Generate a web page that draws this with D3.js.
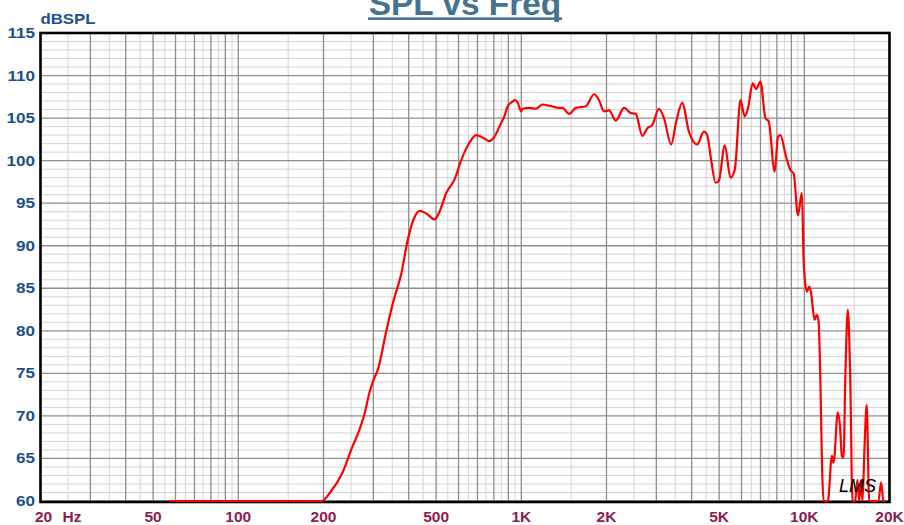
<!DOCTYPE html>
<html>
<head>
<meta charset="utf-8">
<script src="https://cdn.jsdelivr.net/npm/d3@7"></script>
<style>
  html, body { margin: 0; padding: 0; background: #fff; }
  svg { display: block; }
  text { font-family: "Liberation Sans", Arial, sans-serif; }
</style>
</head>
<body>
<svg id="chart" width="904" height="525"></svg>
<script>
// ---- data ----
const freqHz = [57, 197, 211, 234, 251, 268, 280, 291, 301, 311, 334, 352, 377, 397, 420, 437, 461, 494, 514, 543, 581,
  614, 656, 692, 741, 771, 803, 848, 871, 895, 920, 950, 971, 998, 1011, 1067, 1127, 1189, 1273, 1361, 1398, 1476, 1559,
  1691, 1808, 1883, 1961, 2042, 2157, 2307, 2436, 2538, 2677, 2789, 2904, 3066, 3192, 3386, 3527, 3702, 3911, 4184, 4416,
  4537, 4686, 4857, 4988, 5236, 5484, 5679, 5949, 6159, 6328, 6575, 6753, 6998, 7288, 7487, 7858, 8072, 8232, 8614, 8927,
  9170, 9494, 9808, 9944, 10024, 10212, 10414, 10550, 10872, 11076, 11230, 11696, 12113, 12512, 12686, 13136, 13396,
  13570, 13758, 13950, 14248, 14526, 14800, 15128, 15412, 15626, 15882, 16052, 16312, 16618, 16948, 18276, 18678, 19034, 19500];
const splDb = [60, 60, 61.0, 63.4, 66.1, 68.4, 70.4, 72.8, 74.3, 75.4, 80.1, 83.3, 86.8, 90.7, 93.4, 94.1, 93.8, 93.1, 94.0, 96.2, 97.8,
  100.1, 102.1, 103.0, 102.6, 102.3, 102.8, 104.4, 105.2, 106.4, 106.8, 107.1, 106.8, 105.8, 106.1, 106.2, 106.1, 106.6, 106.4, 106.2, 106.2, 105.5, 106.2,
  106.4, 107.8, 107.1, 105.8, 105.9, 104.7, 106.2, 105.6, 105.5, 102.9, 103.8, 104.2, 106.1, 105.0, 101.9, 104.6, 106.8, 103.4, 101.9, 103.4,
  103.0, 100.1, 97.4, 97.6, 101.8, 98.0, 98.9, 107.1, 105.2, 106.2, 109.1, 108.4, 109.3, 105.0, 104.6, 98.7, 102.8, 103.0, 100.5, 98.9,
  98.5, 93.6, 96.2, 88.4, 86.4, 84.6, 85.2, 84.6, 81.3, 81.9, 81.1, 60, 60, 65.3, 64.5, 70.4, 68.4,
  65.3, 65.1, 73.9, 82.5, 74.7, 60, 60, 62.5, 60, 62.5, 60, 66.1, 71.3, 60, 60, 62.2, 60, 60];

const yTicks = [60, 65, 70, 75, 80, 85, 90, 95, 100, 105, 110, 115];
const xTickValues = [20, 50, 100, 200, 500, 1000, 2000, 5000, 10000, 20000];
const xTickLabels = ["20", "50", "100", "200", "500", "1K", "2K", "5K", "10K", "20K"];
const titleText = "SPL vs Freq";
const yAxisTitle = "dBSPL";
const xUnit = "Hz";
const logoText = "LMS";

// ---- layout ----
const L = 40.5, R = 889.5, T = 33, B = 501;
const svg = d3.select("#chart");
const x = d3.scaleLog().domain([20, 20000]).range([L, R]);
const y = d3.scaleLinear().domain([60, 115]).range([B, T]);

// grid values
const majorV = [], minorV = [];
[10, 100, 1000, 10000].forEach(dec => {
  for (let m = 1; m <= 9; m++) {
    const v = m * dec;
    if (v >= 20 && v <= 20000) majorV.push(v);
    const h = (m + 0.5) * dec;
    if (h > 20 && h < 20000) minorV.push(h);
  }
});
const minorH = d3.range(60, 116, 1).filter(d => d % 5 !== 0);

const g = svg.append("g");
g.selectAll("line.minv").data(minorV).join("line")
  .attr("x1", d => x(d)).attr("x2", d => x(d)).attr("y1", T).attr("y2", B)
  .attr("stroke", "#d4d4d4").attr("stroke-width", 1);
g.selectAll("line.minh").data(minorH).join("line")
  .attr("x1", L).attr("x2", R).attr("y1", d => y(d)).attr("y2", d => y(d))
  .attr("stroke", "#d4d4d4").attr("stroke-width", 1);
g.selectAll("line.majv").data(majorV).join("line")
  .attr("x1", d => x(d)).attr("x2", d => x(d)).attr("y1", T).attr("y2", B)
  .attr("stroke", "#8e8e8e").attr("stroke-width", 1.3);
g.selectAll("line.majh").data(yTicks).join("line")
  .attr("x1", L).attr("x2", R).attr("y1", d => y(d)).attr("y2", d => y(d))
  .attr("stroke", "#8e8e8e").attr("stroke-width", 1.3);

// frame
svg.append("rect").attr("x", L).attr("y", T).attr("width", R - L).attr("height", B + 1 - T)
  .attr("fill", "none").attr("stroke", "#000").attr("stroke-width", 2.6);

// curve
const line = d3.line().x(d => x(d[0])).y(d => y(d[1])).curve(d3.curveMonotoneX);
svg.append("path").datum(freqHz.map((f, i) => [f, splDb[i]]))
  .attr("d", line).attr("fill", "none").attr("stroke", "#ff0000")
  .attr("stroke-width", 2.2).attr("stroke-linejoin", "round");

// y labels
svg.selectAll("text.yl").data(yTicks).join("text")
  .attr("transform", d => `translate(35,${y(d) + 5}) scale(1.22,1)`)
  .attr("text-anchor", "end").attr("font-size", 14).attr("font-weight", "bold")
  .attr("fill", "#1b4f8e").text(d => d);

// x labels
svg.selectAll("text.xl").data(xTickValues).join("text")
  .attr("x", (d, i) => x(d) + (i === 0 ? 3 : 0)).attr("y", 521.5)
  .attr("text-anchor", "middle").attr("font-size", 15.5).attr("font-weight", "bold")
  .attr("fill", "#8e1b4f").text((d, i) => xTickLabels[i]);
svg.append("text").attr("x", 62.5).attr("y", 521.5)
  .attr("font-size", 15.5).attr("font-weight", "bold").attr("fill", "#8e1b4f").text(xUnit);

// y axis title
svg.append("text").attr("transform", "translate(40.5,24) scale(1.12,1)")
  .attr("font-size", 15).attr("font-weight", "bold").attr("fill", "#1b4f8e").text(yAxisTitle);

// title
svg.append("text").attr("x", 465).attr("y", 15).attr("text-anchor", "middle")
  .attr("font-size", 33.4).attr("font-weight", "bold").attr("fill", "#45728f").text(titleText);
svg.append("rect").attr("x", 368).attr("y", 17.4).attr("width", 194).attr("height", 2.6).attr("fill", "#45728f");

// logo
svg.append("text").attr("x", 839).attr("y", 492)
  .attr("font-family", "DejaVu Sans").attr("font-style", "italic").attr("font-weight", 200)
  .attr("font-size", 18).attr("fill", "#000").text(logoText);
</script>
</body>
</html>
